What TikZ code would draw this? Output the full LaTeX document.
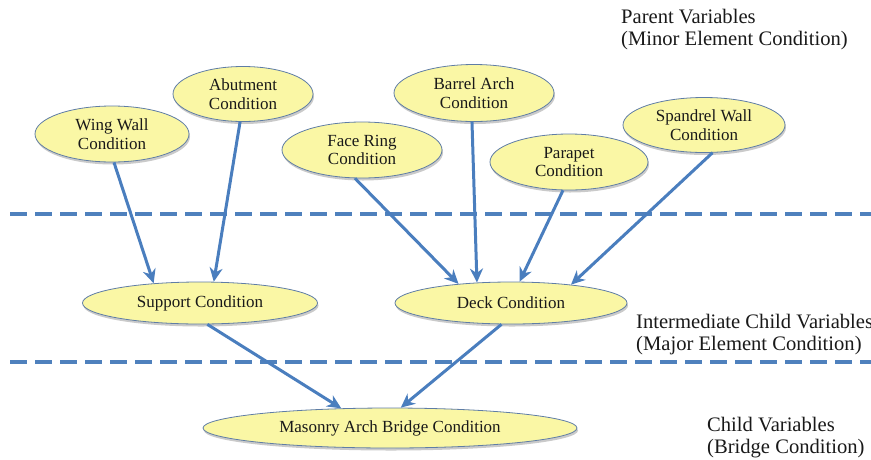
\documentclass[tikz,border=0pt]{standalone}
\usepackage{fontspec}
\setmainfont{Liberation Serif}
\usetikzlibrary{shapes.geometric,arrows.meta,shadows}

\definecolor{linkblue}{RGB}{74,126,190}
\definecolor{dashblue}{RGB}{79,129,189}
\definecolor{ovalfill}{RGB}{250,247,165}
\definecolor{ovaledge}{RGB}{95,125,165}
\definecolor{inktext}{RGB}{25,25,25}

\tikzset{
  oval/.style={ellipse, draw=ovaledge, line width=0.8pt, fill=ovalfill,
    inner sep=0pt, align=center, text=inktext,
    font=\fontsize{17}{18.5}\selectfont,
    drop shadow={shadow xshift=1pt, shadow yshift=-2.5pt, opacity=0.35, fill=black!60}},
  link/.style={draw=linkblue, line width=3pt,
    -{Stealth[length=14pt,width=13pt,inset=4.5pt]}},
  levelline/.style={draw=dashblue, line width=3.5pt, dash pattern=on 17pt off 8pt},
  levellabel/.style={anchor=north west, inner sep=0pt, align=left, text=inktext,
    font=\fontsize{20.6}{22}\selectfont}
}

\begin{document}
\begin{tikzpicture}[x=1pt,y=-1pt]
  \useasboundingbox (0,0) rectangle (871,459);

  % level separators
  \draw[levelline] (10,214) -- (875,214);
  \draw[levelline] (10,362) -- (875,362);

  % parent variables
  \node[oval, minimum width=154pt, minimum height=56pt] (ww) at (112,134) {Wing Wall\\Condition};
  \node[oval, minimum width=140pt, minimum height=55pt] (ab) at (243,94) {Abutment\\Condition};
  \node[oval, minimum width=160pt, minimum height=56pt] (fr) at (362,150) {Face Ring\\Condition};
  \node[oval, minimum width=160pt, minimum height=57pt] (ba) at (474,93) {Barrel Arch\\Condition};
  \node[oval, minimum width=158pt, minimum height=56pt] (pp) at (569,162) {Parapet\\Condition};
  \node[oval, minimum width=162pt, minimum height=55pt] (sw) at (704,125) {Spandrel Wall\\Condition};

  % intermediate child variables
  \node[oval, minimum width=235pt, minimum height=42pt] (sup) at (200,303) {Support Condition};
  \node[oval, minimum width=232pt, minimum height=42pt] (deck) at (511,303) {Deck Condition};

  % child variable
  \node[oval, minimum width=374pt, minimum height=40pt] (mas) at (390,428) {Masonry Arch Bridge Condition};

  % level labels
  \node[levellabel] (lp) at (621,9) {Parent Variables\\(Minor Element Condition)};
  \node[levellabel] (li) at (636,314) {Intermediate Child Variables\\(Major Element Condition)};
  \node[levellabel] (lc) at (707,417) {Child Variables\\(Bridge Condition)};

  % dependencies
  \draw[link] (ww.-86) -- (sup.157);
  \draw[link] (ab.-96) -- (sup.57);
  \draw[link] (fr.-104) -- (deck.160);
  \draw[link] (ba.-94) -- (deck.149);
  \draw[link] (pp.-102) -- (deck.68);
  \draw[link] (sw.-73) -- (deck.17);
  \draw[link] (sup.-71) -- (mas.158);
  \draw[link] (deck.-114) -- (mas.62);
\end{tikzpicture}
\end{document}
